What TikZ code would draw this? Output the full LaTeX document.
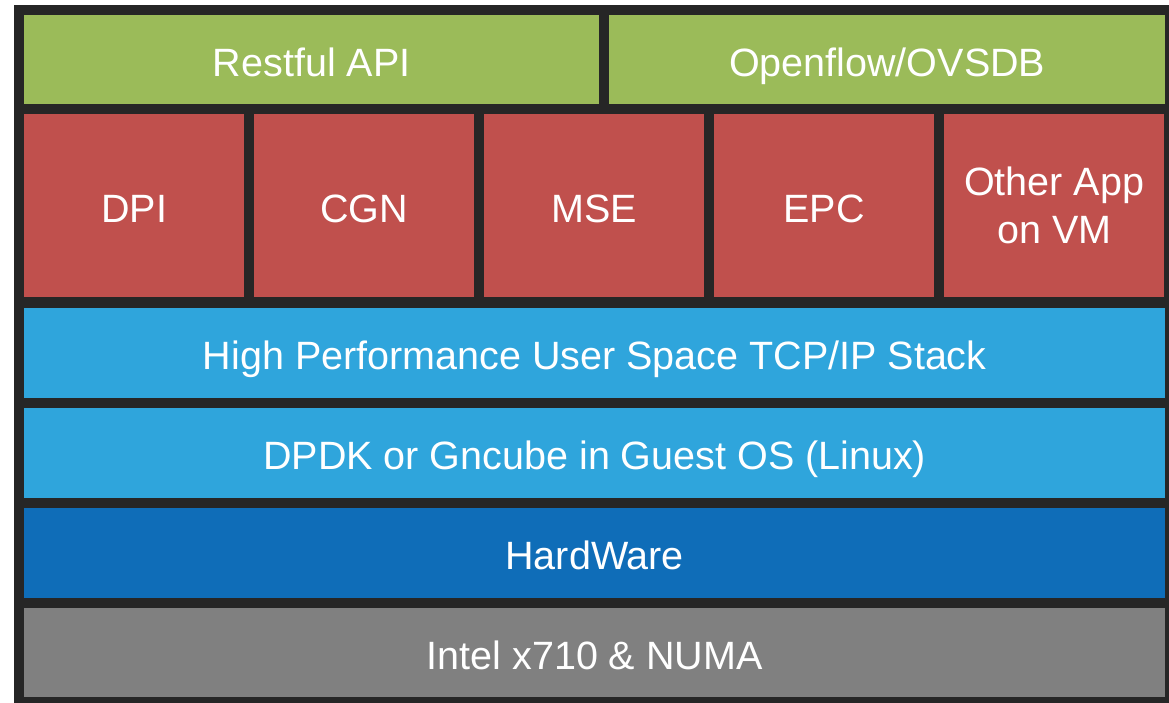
\documentclass[tikz,border=0pt]{standalone}
\usepackage{fontspec}
\setmainfont{Liberation Sans}
\definecolor{framegray}{HTML}{262626}
\definecolor{apigreen}{HTML}{9BBB59}
\definecolor{appred}{HTML}{C0504D}
\definecolor{stackblue}{HTML}{2FA5DC}
\definecolor{hwblue}{HTML}{0F6DB8}
\definecolor{nicgray}{HTML}{808080}
\tikzset{
  layer/.style={fill=#1, text=white, inner sep=0pt, anchor=north west, align=center,
    text height=33pt, text depth=0pt, font=\fontsize{39.5}{48}\selectfont},
  app/.style={layer=appred, minimum width=220pt, minimum height=183pt},
  row/.style={layer=#1, minimum width=1141pt, minimum height=90pt}
}
\begin{document}
\begin{tikzpicture}[x=1pt,y=-1pt]
 \useasboundingbox (0,0) rectangle (1169,703);
 \fill[framegray] (14,5) rectangle (1169,703);
 % top: interfaces
 \node[layer=apigreen, minimum width=575pt, minimum height=89pt] (rest) at (24,15) {Restful API};
 \node[layer=apigreen, minimum width=556pt, minimum height=89pt] (ovsdb) at (609,15) {Openflow/OVSDB};
 % applications
 \foreach \name/\txt [count=\i from 0] in {dpi/DPI,cgn/CGN,mse/MSE,epc/EPC}
   \node[app] (\name) at (24+230*\i,114) {\txt};
 \node[app, text height={}, text depth={}] (other) at (944,114) {Other App\\on VM};
 % stack
 \node[row=stackblue] (tcpip) at (24,308) {High Performance User Space TCP/IP Stack};
 \node[row=stackblue] (dpdk) at (24,408) {DPDK or Gncube in Guest OS (Linux)};
 \node[row=hwblue] (hw) at (24,508) {HardWare};
 \node[row=nicgray, minimum height=89pt] (nic) at (24,608) {Intel x710 \& NUMA};
\end{tikzpicture}
\end{document}
